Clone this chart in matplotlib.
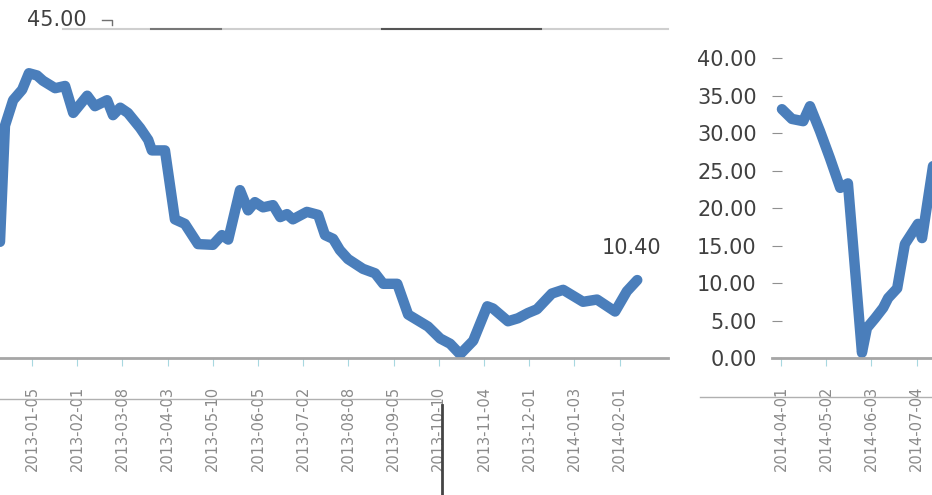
import matplotlib.pyplot as plt
from matplotlib.lines import Line2D

# left panel: x in months from first tick, y value
left_x = [-0.71, -0.60, -0.42, -0.22, -0.07, 0.11, 0.24, 0.51, 0.73, 0.91,
          1.22, 1.39, 1.66, 1.79, 1.95, 2.12, 2.39, 2.57, 2.65, 2.94,
          3.16, 3.38, 3.67, 4.00, 4.20, 4.34, 4.60, 4.78, 4.93, 5.11,
          5.33, 5.49, 5.64, 5.77, 6.08, 6.33, 6.48, 6.66, 6.81, 6.99,
          7.32, 7.59, 7.77, 8.08, 8.32, 8.76, 9.03, 9.25, 9.47, 9.76,
          10.07, 10.20, 10.53, 10.75, 10.97, 11.17, 11.50, 11.75, 12.19, 12.50,
          12.90, 13.16, 13.39]
left_y = [15.5, 31.0, 34.4, 35.8, 38.0, 37.7, 37.0, 36.0, 36.3, 32.7,
          35.0, 33.6, 34.4, 32.4, 33.4, 32.7, 30.7, 29.1, 27.7, 27.7,
          18.5, 17.9, 15.2, 15.1, 16.4, 15.8, 22.4, 19.7, 20.8, 20.1,
          20.4, 18.8, 19.2, 18.5, 19.5, 19.1, 16.4, 15.9, 14.4, 13.2,
          11.9, 11.3, 9.9, 9.9, 5.8, 4.2, 2.6, 1.9, 0.5, 2.3,
          6.9, 6.6, 4.9, 5.3, 6.0, 6.5, 8.6, 9.1, 7.5, 7.8,
          6.2, 8.9, 10.4]
left_labels = ["2013-01-05", "2013-02-01", "2013-03-08", "2013-04-03", "2013-05-10",
               "2013-06-05", "2013-07-02", "2013-08-08", "2013-09-05", "2013-10-10",
               "2013-11-04", "2013-12-01", "2014-01-03", "2014-02-01"]

# right panel
right_x = [0.02, 0.24, 0.49, 0.64, 0.86, 1.08, 1.31, 1.48, 1.79, 1.90,
           2.08, 2.26, 2.37, 2.57, 2.74, 3.03, 3.12, 3.41]
right_y = [33.2, 31.9, 31.6, 33.6, 30.3, 26.7, 22.7, 23.3, 0.7, 4.0,
           5.3, 6.7, 8.0, 9.3, 15.2, 17.9, 16.0, 27.5]
right_labels = ["2014-04-01", "2014-05-02", "2014-06-03", "2014-07-04"]
right_yticks = [0, 5, 10, 15, 20, 25, 30, 35, 40]

blue = "#4a7ebb"
W, H = 932, 495

fig = plt.figure(figsize=(W / 100, H / 100), dpi=100)

bottom = (H - 358) / H
height = (358 - 29) / H

ax1 = fig.add_axes([0, bottom, 668 / W, height])
ax1.plot(left_x, left_y, color=blue, lw=7.5, solid_joinstyle="round", solid_capstyle="round")
ax1.set_xlim(-0.71, 14.07)
ax1.set_ylim(0, 43.9)
ax1.set_xticks(range(len(left_labels)))
ax1.set_xticklabels(left_labels, rotation=90, fontsize=10.5, color="#8a8a8a")
ax1.set_yticks([])
for s in ["left", "right", "top"]:
    ax1.spines[s].set_visible(False)
ax1.spines["bottom"].set_color("#a6a6a6")
ax1.spines["bottom"].set_linewidth(2)
ax1.tick_params(axis="x", length=6, color="#a8d8e0", pad=14)
ax1.annotate("10.40", (left_x[-1], left_y[-1]), xytext=(-4, 16), textcoords="offset points",
             ha="center", va="bottom", fontsize=15, color="#404040")

ax2 = fig.add_axes([772 / W, bottom, (W - 772) / W, height])
ax2.plot(right_x, right_y, color=blue, lw=7.5, solid_joinstyle="round", solid_capstyle="round")
ax2.set_xlim(-0.2, 3.34)
ax2.set_ylim(0, 43.9)
ax2.set_xticks(range(len(right_labels)))
ax2.set_xticklabels(right_labels, rotation=90, fontsize=10.5, color="#8a8a8a")
ax2.set_yticks(right_yticks)
ax2.set_yticklabels([f"{v:.2f}" for v in right_yticks], fontsize=15, color="#404040")
for s in ["left", "right", "top"]:
    ax2.spines[s].set_visible(False)
ax2.spines["bottom"].set_color("#a6a6a6")
ax2.spines["bottom"].set_linewidth(2)
ax2.tick_params(axis="x", length=6, color="#a8d8e0", pad=14)
ax2.tick_params(axis="y", direction="in", length=7, color="#909090", pad=11)

# top label and top rule
fig.text(87 / W, 1 - 20 / H, "45.00", ha="right", va="center", fontsize=15, color="#404040")
fig.add_artist(Line2D([63 / W, 668 / W], [1 - 29 / H] * 2, color="#cfcfcf", lw=1.5))
fig.add_artist(Line2D([151 / W, 221 / W], [1 - 28.5 / H] * 2, color="#777777", lw=1.5))
fig.add_artist(Line2D([382 / W, 541 / W], [1 - 28.5 / H] * 2, color="#555555", lw=1.5))
fig.add_artist(Line2D([102 / W, 112 / W, 112 / W], [1 - 20 / H, 1 - 20 / H, 1 - 25 / H],
                      color="#707070", lw=1))

# stray rules in the label area
fig.add_artist(Line2D([0, 440 / W], [1 - 399 / H] * 2, color="#b0b0b0", lw=1))
fig.add_artist(Line2D([700 / W, 1], [1 - 397 / H] * 2, color="#b0b0b0", lw=1))
fig.add_artist(Line2D([442 / W, 442 / W], [1 - 405 / H, 0], color="#444444", lw=2))

fig.savefig("out.png", dpi=100, facecolor="white")
